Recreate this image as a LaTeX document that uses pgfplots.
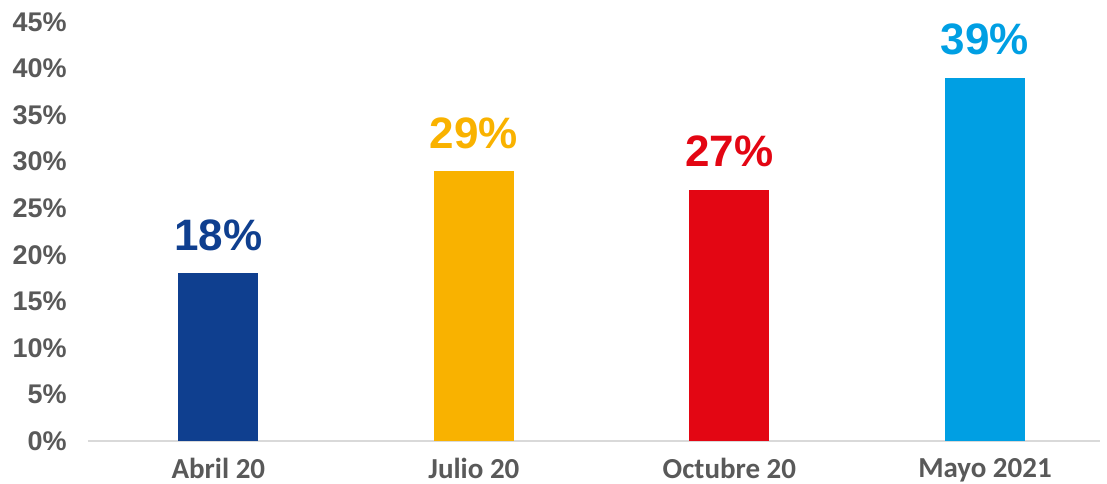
\documentclass[border=0pt]{standalone}
\usepackage{pgfplots}
\pgfplotsset{compat=1.18}
\usepackage{fontspec}
\setmainfont{Liberation Sans}
\newfontfamily\carlito{Carlito}

\definecolor{cblue}{HTML}{0F3F8F}
\definecolor{cyellow}{HTML}{F9B200}
\definecolor{cred}{HTML}{E30613}
\definecolor{clight}{HTML}{009FE3}
\definecolor{tickgray}{HTML}{595959}
\definecolor{axgray}{HTML}{D9D9D9}

\begin{document}
\begin{tikzpicture}
    % page = 1107x483 px at 0.5pt per px
    \path[use as bounding box] (-44pt,-21pt) rectangle (509.5pt,220.5pt);
    \begin{axis}[
        at={(0,0)}, anchor=south west,
        scale only axis,
        width=506pt, height=209.5pt,
        ybar, bar width=40pt,
        xmin=-0.51, xmax=3.45,
        ymin=0, ymax=45,
        xtick={0,1,2,3},
        xticklabels={Abril 20, Julio 20, Octubre 20, Mayo 2021},
        ytick={0,5,...,45},
        yticklabel={\pgfmathprintnumber{\tick}\%},
        /pgf/number format/assume math mode=true,
        major tick length=0pt,
        axis y line*=left,
        y axis line style={draw=none},
        axis x line*=bottom,
        x axis line style={draw=axgray, line width=1pt, -},
        y tick label style={font=\fontsize{13.5}{15}\selectfont\bfseries, text=tickgray, anchor=east, inner sep=0pt, xshift=-10.5pt},
        x tick label style={font=\carlito\fontsize{14.5}{16}\selectfont\bfseries, text=tickgray, anchor=north, inner sep=0pt, yshift=-8.5pt},
        nodes near coords={\pgfmathprintnumber{\pgfplotspointmeta}\%},
        every node near coord/.append style={font=\fontsize{22}{26}\selectfont\bfseries, inner sep=0pt, yshift=11pt},
        clip=false,
    ]
        \addplot[fill=cblue, draw=none, bar shift=0pt, every node near coord/.append style={text=cblue}] coordinates {(0,18)};
        \addplot[fill=cyellow, draw=none, bar shift=0pt, every node near coord/.append style={text=cyellow}] coordinates {(1,29)};
        \addplot[fill=cred, draw=none, bar shift=0pt, every node near coord/.append style={text=cred}] coordinates {(2,27)};
        \addplot[fill=clight, draw=none, bar shift=0pt, every node near coord/.append style={text=clight}] coordinates {(3,39)};
    \end{axis}
\end{tikzpicture}
\end{document}
